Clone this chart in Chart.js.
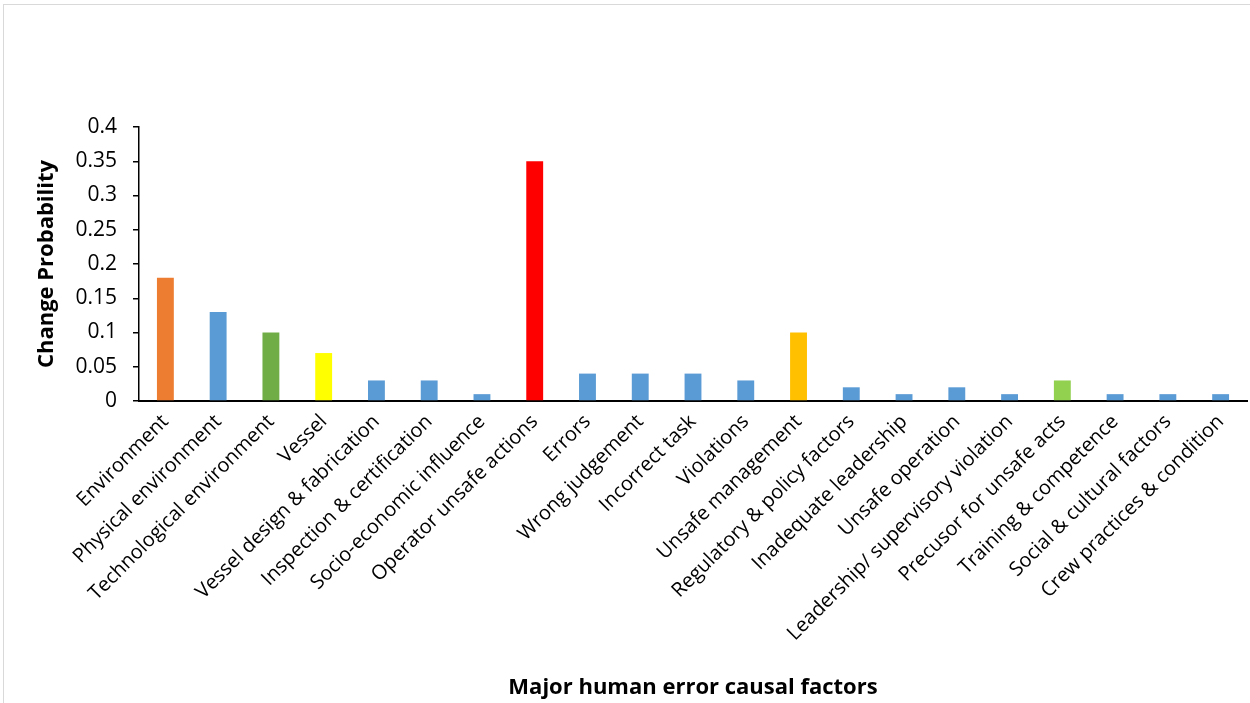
<!DOCTYPE html>
<html>
<head>
<meta charset="utf-8">
<script src="https://cdn.jsdelivr.net/npm/chart.js@4"></script>
<style>
  html, body { margin: 0; padding: 0; background: #fff; }
  #wrap { width: 1250px; height: 703px; position: relative; }
</style>
</head>
<body>
<div id="wrap"><canvas id="c" width="1250" height="703"></canvas></div>
<script>
// Factores y probabilidades
const factors = [
  'Environment', 'Physical environment', 'Technological environment', 'Vessel',
  'Vessel design & fabrication', 'Inspection & certification', 'Socio-economic influence',
  'Operator unsafe actions', 'Errors', 'Wrong judgement', 'Incorrect task', 'Violations',
  'Unsafe management', 'Regulatory & policy factors', 'Inadequate leadership',
  'Unsafe operation', 'Leadership/ supervisory violation', 'Precusor for unsafe acts',
  'Training & competence', 'Social & cultural factors', 'Crew practices & condition'
];
const probability = [
  0.18, 0.13, 0.10, 0.07, 0.03, 0.03, 0.01, 0.35, 0.04, 0.04, 0.04,
  0.03, 0.10, 0.02, 0.01, 0.02, 0.01, 0.03, 0.01, 0.01, 0.01
];
const barColors = [
  '#ED7D31', '#5B9BD5', '#70AD47', '#FFFF00', '#5B9BD5', '#5B9BD5', '#5B9BD5',
  '#FF0000', '#5B9BD5', '#5B9BD5', '#5B9BD5', '#5B9BD5', '#FFC000', '#5B9BD5',
  '#5B9BD5', '#5B9BD5', '#5B9BD5', '#92D050', '#5B9BD5', '#5B9BD5', '#5B9BD5'
];
const yTicks = [0, 0.05, 0.1, 0.15, 0.2, 0.25, 0.3, 0.35, 0.4];

const FONT = "'Open Sans', 'Liberation Sans', sans-serif";

// marco gris claro alrededor del gráfico
const frame = {
  id: 'frame',
  beforeDraw(chart) {
    const ctx = chart.ctx;
    ctx.save();
    ctx.strokeStyle = '#d9d9d9';
    ctx.lineWidth = 1;
    ctx.strokeRect(3.5, 4.5, 1260, 720);
    ctx.restore();
  }
};

new Chart(document.getElementById('c').getContext('2d'), {
  type: 'bar',
  data: {
    labels: factors,
    datasets: [{
      data: probability,
      backgroundColor: barColors,
      borderWidth: 0,
      barPercentage: 0.64,
      categoryPercentage: 0.5,
    }],
  },
  options: {
    responsive: false,
    animation: false,
    layout: { padding: { top: 127, left: 34, right: 3, bottom: 2 } },
    plugins: { legend: { display: false }, tooltip: { enabled: false } },
    scales: {
      x: {
        grid: { display: false },
        border: { display: true, color: '#000', width: 2 },
        ticks: {
          color: '#000', font: { family: FONT, size: 20 },
          minRotation: 45, maxRotation: 45, autoSkip: false, padding: 1,
        },
        title: {
          display: true, text: 'Major human error causal factors', color: '#000',
          font: { family: FONT, size: 22, weight: 'bold' }, padding: { top: 0, bottom: 0 },
        },
        afterFit: (s) => { s.height = 300; },
      },
      y: {
        min: 0, max: 0.4,
        afterBuildTicks: (s) => { s.ticks = yTicks.map(v => ({ value: v })); },
        grid: { display: true, drawOnChartArea: false, color: '#000', tickLength: 6, lineWidth: 1.5 },
        border: { display: true, color: '#000', width: 1.5 },
        ticks: {
          color: '#000', font: { family: FONT, size: 21 }, padding: 16,
          callback: (v) => String(v),
        },
        title: {
          display: true, text: 'Change Probability', color: '#000',
          font: { family: FONT, size: 22, weight: 'bold' }, padding: { top: 0, bottom: 0 },
        },
        afterFit: (s) => { s.width = 105; },
      },
    },
  },
  plugins: [frame],
});
</script>
</body>
</html>
